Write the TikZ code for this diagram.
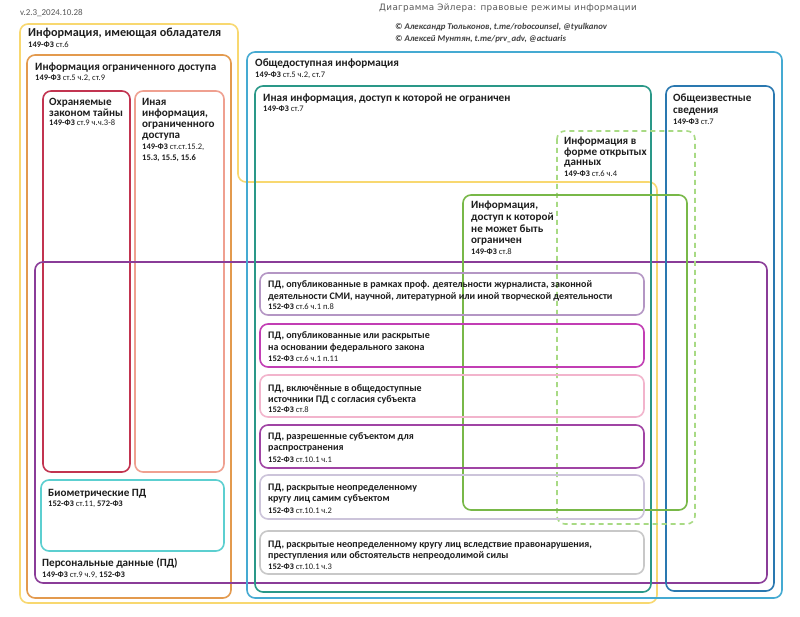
\documentclass[tikz,border=0pt]{standalone}
\usepackage{fontspec}
\setmainfont{Carlito}
\newfontfamily\titlefont[LetterSpace=4]{DejaVu Sans}
\definecolor{cyel}{HTML}{F8D870}
\definecolor{cora}{HTML}{E39A4E}
\definecolor{ccri}{HTML}{C23450}
\definecolor{csal}{HTML}{EFA090}
\definecolor{cbio}{HTML}{5CCFD0}
\definecolor{cpd}{HTML}{8A3C98}
\definecolor{cblu}{HTML}{45AAD2}
\definecolor{cdte}{HTML}{2A9888}
\definecolor{cdbl}{HTML}{2A78B0}
\definecolor{cldg}{HTML}{A8DA84}
\definecolor{cgrn}{HTML}{78B848}
\definecolor{cb1}{HTML}{B496C4}
\definecolor{cb2}{HTML}{C23EB4}
\definecolor{cb3}{HTML}{F2B4CC}
\definecolor{cb4}{HTML}{A044A4}
\definecolor{cb5}{HTML}{CCC4DA}
\definecolor{cb6}{HTML}{C8C8C8}
\definecolor{ctxt}{HTML}{1E1E1E}
\tikzset{
  frame/.style={line width=1.6pt, rounded corners=8pt},
  pdbox/.style={line width=1.6pt, rounded corners=8pt},
  big/.style={anchor=base west, inner sep=0pt, text=ctxt, font=\fontsize{11.2}{13}\selectfont\bfseries},
  mid/.style={anchor=base west, inner sep=0pt, text=ctxt, font=\fontsize{11.1}{13}\selectfont\bfseries},
  pdt/.style={anchor=base west, inner sep=0pt, text=ctxt, font=\fontsize{10}{12}\selectfont\bfseries},
  law/.style={anchor=base west, inner sep=0pt, text=ctxt, font=\fontsize{8.5}{10}\selectfont},
}
\begin{document}
\begin{tikzpicture}[x=1pt,y=-1pt]
\useasboundingbox[fill=white] (0,0) rectangle (800,617);
% header
\node[anchor=base west, inner sep=0pt, text=black!65, font=\fontsize{9}{10}\selectfont] (ver) at (20,16) {v.2.3\_2024.10.28};
\node[anchor=base west, inner sep=0pt, text=black!65, font=\titlefont\fontsize{8.8}{10}\selectfont] (title) at (379,11) {Диаграмма Эйлера: правовые режимы информации};
\node[anchor=base west, inner sep=0pt, text=black!75, font=\fontsize{8.8}{10}\selectfont\bfseries\itshape] (cop1) at (395,30) {© Александр Тюльконов, t.me/robocounsel, @tyulkanov};
\node[anchor=base west, inner sep=0pt, text=black!75, font=\fontsize{8.8}{10}\selectfont\bfseries\itshape] (cop2) at (395,42) {© Алексей Мунтян, t.me/prv\_adv, @actuaris};
% frames
\draw[frame, cyel] (20,24) -- (238,24) -- (238,182) -- (657,182) -- (657,603) -- (20,603) -- cycle;
\draw[frame, cora] (27,55) rectangle (231,598);
\draw[frame, ccri] (43,91) rectangle (130,472);
\draw[frame, csal] (135,91) rectangle (224,472);
\draw[frame, cbio] (41,480) rectangle (224,551);
\draw[frame, cpd] (35,262) rectangle (767,583);
\draw[frame, cblu] (247,52) rectangle (782,598);
\draw[frame, cdte] (255,86) rectangle (651,592);
\draw[frame, cdbl] (666,86) rectangle (774,591);
\draw[frame, cldg, dashed, dash pattern=on 5pt off 4pt] (557,131) rectangle (695,524);
\draw[frame, cgrn] (463,195) rectangle (687,510);
\draw[pdbox, cb1] (260,273) rectangle (644,315);
\draw[pdbox, cb2] (260,324) rectangle (644,367);
\draw[pdbox, cb3] (260,375) rectangle (644,417);
\draw[pdbox, cb4] (260,425) rectangle (644,468);
\draw[pdbox, cb5] (260,475) rectangle (644,519);
\draw[pdbox, cb6] (260,531) rectangle (644,574);
% labels
\node[big, font=\fontsize{12.2}{14}\selectfont\bfseries] (own) at (28,37) {Информация, имеющая обладателя};
\node[law] (ownl) at (28,48) {\textbf{149-ФЗ} ст.6};
\node[big] (lim) at (35,71) {Информация ограниченного доступа};
\node[law] (liml) at (35,81) {\textbf{149-ФЗ} ст.5 ч.2, ст.9};
\node[mid] (sec1) at (49,106) {Охраняемые};
\node[mid] (sec2) at (49,117) {законом тайны};
\node[law] (secl) at (49,126) {\textbf{149-ФЗ} ст.9 ч.ч.3-8};
\node[mid] (oth1) at (142,106) {Иная};
\node[mid] (oth2) at (142,117) {информация,};
\node[mid] (oth3) at (142,128) {ограниченного};
\node[mid] (oth4) at (142,139) {доступа};
\node[law] (othl1) at (142,150) {\textbf{149-ФЗ} ст.ст.15.2,};
\node[law] (othl2) at (142,161) {\textbf{15.3, 15.5, 15.6}};
\node[mid] (bio) at (48,496) {Биометрические ПД};
\node[law] (biol) at (48,506) {\textbf{152-ФЗ} ст.11, \textbf{572-ФЗ}};
\node[mid] (pd) at (42,566) {Персональные данные (ПД)};
\node[law] (pdl) at (42,577) {\textbf{149-ФЗ} ст.9 ч.9, \textbf{152-ФЗ}};
\node[big] (pub) at (255,67) {Общедоступная информация};
\node[law] (publ) at (255,78) {\textbf{149-ФЗ} ст.5 ч.2, ст.7};
\node[big] (unl) at (263,102) {Иная информация, доступ к которой не ограничен};
\node[law] (unll) at (263,112) {\textbf{149-ФЗ} ст.7};
\node[mid] (gen1) at (673,102) {Общеизвестные};
\node[mid] (gen2) at (673,114) {сведения};
\node[law] (genl) at (673,125) {\textbf{149-ФЗ} ст.7};
\node[mid] (od1) at (564,145) {Информация в};
\node[mid] (od2) at (564,156) {форме открытых};
\node[mid] (od3) at (564,166) {данных};
\node[law] (odl) at (564,177) {\textbf{149-ФЗ} ст.6 ч.4};
\node[mid] (nl1) at (471,209) {Информация,};
\node[mid] (nl2) at (471,221) {доступ к которой};
\node[mid] (nl3) at (471,233) {не может быть};
\node[mid] (nl4) at (471,244) {ограничен};
\node[law] (nll) at (471,255) {\textbf{149-ФЗ} ст.8};
% PD boxes text
\node[pdt] (b1a) at (268,288) {ПД, опубликованные в рамках проф. деятельности журналиста, законной};
\node[pdt] (b1b) at (268,300) {деятельности СМИ, научной, литературной или иной творческой деятельности};
\node[law] (b1l) at (268,310) {\textbf{152-ФЗ} ст.6 ч.1 п.8};
\node[pdt] (b2a) at (268,338) {ПД, опубликованные или раскрытые};
\node[pdt] (b2b) at (268,350) {на основании федерального закона};
\node[law] (b2l) at (268,361) {\textbf{152-ФЗ} ст.6 ч.1 п.11};
\node[pdt] (b3a) at (268,391) {ПД, включённые в общедоступные};
\node[pdt] (b3b) at (268,402) {источники ПД с согласия субъекта};
\node[law] (b3l) at (268,412) {\textbf{152-ФЗ} ст.8};
\node[pdt] (b4a) at (268,439) {ПД, разрешенные субъектом для};
\node[pdt] (b4b) at (268,450) {распространения};
\node[law] (b4l) at (268,462) {\textbf{152-ФЗ} ст.10.1 ч.1};
\node[pdt] (b5a) at (268,490) {ПД, раскрытые неопределенному};
\node[pdt] (b5b) at (268,501) {кругу лиц самим субъектом};
\node[law] (b5l) at (268,513) {\textbf{152-ФЗ} ст.10.1 ч.2};
\node[pdt] (b6a) at (268,547) {ПД, раскрытые неопределенному кругу лиц вследствие правонарушения,};
\node[pdt] (b6b) at (268,558) {преступления или обстоятельств непреодолимой силы};
\node[law] (b6l) at (268,569) {\textbf{152-ФЗ} ст.10.1 ч.3};
\end{tikzpicture}
\end{document}
